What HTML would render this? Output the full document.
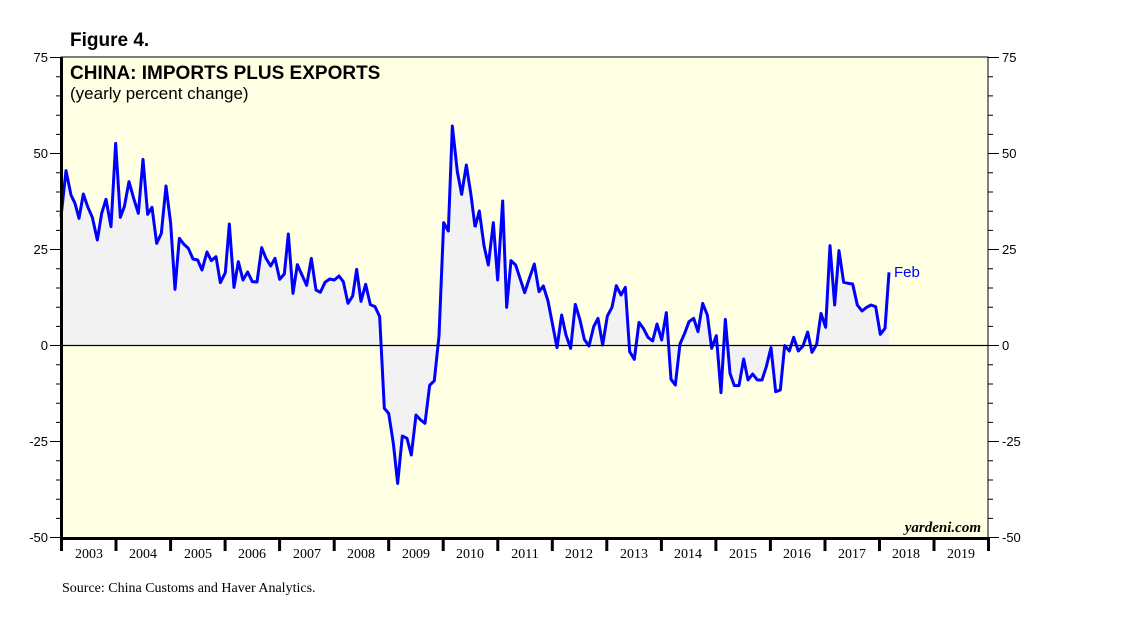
<!DOCTYPE html>
<html><head><meta charset="utf-8"><style>
body{margin:0;background:#fff;width:1138px;height:621px;overflow:hidden;font-family:"Liberation Sans",sans-serif}
</style></head><body>
<svg width="1138" height="621" xmlns="http://www.w3.org/2000/svg">
<rect x="61" y="57" width="927" height="481" fill="#ffffe4"/>
<g transform="translate(55,100) scale(0.33333)">
<polygon fill="#f2f2f2" points="18,737 18,350 33,212 48,285 60,310 72,355 85,282 98,320 112,352 127,420 140,340 153,298 168,380 182,130 196,352 208,320 222,245 236,295 250,340 264,178 278,343 291,322 305,430 319,400 333,258 347,370 360,568 373,415 386,432 400,445 414,477 428,480 441,510 456,456 469,482 483,470 496,548 511,518 523,372 537,562 550,485 564,540 578,516 592,545 606,546 620,443 633,475 647,498 660,475 674,538 688,522 700,402 714,580 727,494 741,525 755,556 769,475 783,570 796,577 810,547 824,537 838,540 852,528 865,545 879,610 893,588 905,508 918,604 932,553 946,614 960,620 974,650 988,925 1001,940 1015,1030 1028,1150 1042,1008 1056,1015 1069,1065 1083,945 1097,960 1110,970 1124,856 1138,842 1152,708 1166,368 1180,393 1192,78 1207,215 1220,283 1234,195 1248,285 1260,380 1260,737"/>
<polyline fill="none" stroke="#0000ff" stroke-width="3" vector-effect="non-scaling-stroke" stroke-linejoin="round" points="18,350 33,212 48,285 60,310 72,355 85,282 98,320 112,352 127,420 140,340 153,298 168,380 182,130 196,352 208,320 222,245 236,295 250,340 264,178 278,343 291,322 305,430 319,400 333,258 347,370 360,568 373,415 386,432 400,445 414,477 428,480 441,510 456,456 469,482 483,470 496,548 511,518 523,372 537,562 550,485 564,540 578,516 592,545 606,546 620,443 633,475 647,498 660,475 674,538 688,522 700,402 714,580 727,494 741,525 755,556 769,475 783,570 796,577 810,547 824,537 838,540 852,528 865,545 879,610 893,588 905,508 918,604 932,553 946,614 960,620 974,650 988,925 1001,940 1015,1030 1028,1150 1042,1008 1056,1015 1069,1065 1083,945 1097,960 1110,970 1124,856 1138,842 1152,708 1166,368 1180,393 1192,78 1207,215 1220,283 1234,195 1248,285 1260,380"/>
</g>
<g transform="translate(470,220) scale(0.33333)">
<polygon fill="#f2f2f2" points="15,377 15,22 28,-27 42,77 55,135 70,8 83,180 98,-57 110,262 123,122 137,135 150,175 164,218 178,175 193,132 207,215 220,198 234,243 247,310 261,383 275,285 288,345 302,385 316,253 330,300 343,358 357,378 371,320 384,295 398,375 412,288 426,262 439,197 453,225 466,202 479,395 493,418 507,307 520,325 534,352 548,363 561,312 575,360 589,278 603,478 616,495 630,372 644,340 657,305 671,295 684,335 698,250 712,285 725,385 739,347 753,518 766,298 780,460 793,497 807,497 821,417 834,480 848,462 862,480 876,480 889,440 903,383 917,515 931,510 944,377 958,393 971,352 985,393 999,378 1013,336 1026,397 1040,373 1053,280 1067,322 1080,77 1094,255 1107,92 1121,187 1135,190 1148,192 1162,255 1176,273 1190,262 1203,255 1217,260 1231,343 1245,325 1257,157 1257,377"/>
<polyline fill="none" stroke="#0000ff" stroke-width="3" vector-effect="non-scaling-stroke" stroke-linejoin="round" points="15,22 28,-27 42,77 55,135 70,8 83,180 98,-57 110,262 123,122 137,135 150,175 164,218 178,175 193,132 207,215 220,198 234,243 247,310 261,383 275,285 288,345 302,385 316,253 330,300 343,358 357,378 371,320 384,295 398,375 412,288 426,262 439,197 453,225 466,202 479,395 493,418 507,307 520,325 534,352 548,363 561,312 575,360 589,278 603,478 616,495 630,372 644,340 657,305 671,295 684,335 698,250 712,285 725,385 739,347 753,518 766,298 780,460 793,497 807,497 821,417 834,480 848,462 862,480 876,480 889,440 903,383 917,515 931,510 944,377 958,393 971,352 985,393 999,378 1013,336 1026,397 1040,373 1053,280 1067,322 1080,77 1094,255 1107,92 1121,187 1135,190 1148,192 1162,255 1176,273 1190,262 1203,255 1217,260 1231,343 1245,325 1257,157"/>
</g>
<line x1="61" y1="345.5" x2="988" y2="345.5" stroke="#000" stroke-width="1.2"/>
<rect x="61" y="57" width="927" height="481" fill="none" stroke="#000" stroke-width="1"/>
<line x1="61.5" y1="57" x2="61.5" y2="539" stroke="#000" stroke-width="3"/>
<line x1="60" y1="538.5" x2="988" y2="538.5" stroke="#000" stroke-width="3"/>
<g stroke="#000" stroke-width="1">
<path d="M50,57.5H61M50,153.5H61M50,249.5H61M50,345.5H61M50,441.5H61M50,537.5H61M988,57.5H999M988,153.5H999M988,249.5H999M988,345.5H999M988,441.5H999M988,537.5H999"/>
<path d="M56,76.7H61M56,95.9H61M56,115.2H61M56,134.4H61M56,172.7H61M56,192H61M56,211.2H61M56,230.4H61M56,268.7H61M56,288H61M56,307.2H61M56,326.4H61M56,364.7H61M56,384H61M56,403.2H61M56,422.4H61M56,460.7H61M56,480H61M56,499.2H61M56,518.4H61M988,76.7H993M988,95.9H993M988,115.2H993M988,134.4H993M988,172.7H993M988,192H993M988,211.2H993M988,230.4H993M988,268.7H993M988,288H993M988,307.2H993M988,326.4H993M988,364.7H993M988,384H993M988,403.2H993M988,422.4H993M988,460.7H993M988,480H993M988,499.2H993M988,518.4H993"/>
</g>
<g stroke="#000" stroke-width="3">
<path d="M61.5,538V551M116,538V551M170.6,538V551M225.1,538V551M279.6,538V551M334.2,538V551M388.7,538V551M443.2,538V551M497.8,538V551M552.3,538V551M606.8,538V551M661.4,538V551M715.9,538V551M770.4,538V551M825,538V551M879.5,538V551M934,538V551M988.5,538V551"/>
</g>
<g font-family="Liberation Sans,sans-serif" font-size="13" fill="#000">
<g text-anchor="end"><text x="48" y="62">75</text><text x="48" y="158">50</text><text x="48" y="254">25</text><text x="48" y="350">0</text><text x="48" y="446">-25</text><text x="48" y="542">-50</text></g>
<text x="1002" y="62">75</text><text x="1002" y="158">50</text><text x="1002" y="254">25</text><text x="1002" y="350">0</text><text x="1002" y="446">-25</text><text x="1002" y="542">-50</text>
</g>
<g font-family="Liberation Serif,serif" font-size="13" fill="#000">
<g text-anchor="middle" font-size="14"><text x="89" y="558">2003</text><text x="143" y="558">2004</text><text x="198" y="558">2005</text><text x="252" y="558">2006</text><text x="307" y="558">2007</text><text x="361" y="558">2008</text><text x="416" y="558">2009</text><text x="470" y="558">2010</text><text x="525" y="558">2011</text><text x="579" y="558">2012</text><text x="634" y="558">2013</text><text x="688" y="558">2014</text><text x="743" y="558">2015</text><text x="797" y="558">2016</text><text x="852" y="558">2017</text><text x="906" y="558">2018</text><text x="961" y="558">2019</text></g>
<text x="62" y="592" font-size="14">Source: China Customs and Haver Analytics.</text>
<text x="981" y="532" text-anchor="end" font-size="15" font-style="italic" font-weight="bold">yardeni.com</text>
</g>
<text x="70" y="46" font-size="19" font-weight="bold">Figure 4.</text>
<text x="70" y="79" font-size="19" font-weight="bold">CHINA: IMPORTS PLUS EXPORTS</text>
<text x="70" y="99" font-size="17">(yearly percent change)</text>
<text x="894" y="277" font-size="15" fill="#0000ff">Feb</text>
</svg>
</body></html>
